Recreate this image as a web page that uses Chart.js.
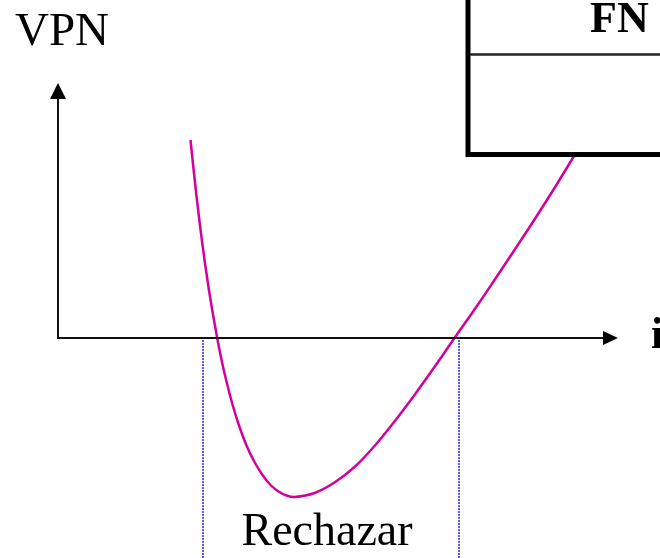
<!DOCTYPE html>
<html>
<head>
<meta charset="utf-8">
<script src="https://cdn.jsdelivr.net/npm/chart.js@4/dist/chart.umd.min.js"></script>
<style>
  html, body { margin: 0; padding: 0; background: #fff; }
  canvas { display: block; }
</style>
</head>
<body>
<canvas id="vpnChart" width="660" height="558"></canvas>
<script>
// Discount rate i (%) and net present value
const rates = [6.625, 6.925, 7.225, 7.525, 7.825, 8.125, 8.425, 8.725, 9.025, 9.425, 9.825, 10.225, 10.625, 11.025, 11.425, 11.825,
  12.825, 13.825, 14.825, 15.825, 16.825, 17.825, 18.825, 19.825, 20.825, 21.825, 22.825, 23.825, 24.825, 25.925];
const vpn = [198, 142, 93, 51, 15, -17, -43.5, -66.5, -86, -107.5, -124, -137, -147, -153.5, -157.5, -159,
  -155, -144.5, -129, -108, -83.5, -57, -29, 0, 28.5, 58, 88, 118.5, 150, 186];

// Rejection zone limits (dotted lines) and axis extents
const rejectBounds = [7.25, 20.05];
const axisEnds = { i: 28, vpn: 255 };
const labels = { y: "VPN", x: "i", zone: "Rechazar", box: "FN" };

const serif = "'Liberation Serif', 'Times New Roman', serif";

const decorations = {
  id: "decorations",
  afterDatasetsDraw(chart) {
    const ctx = chart.ctx;
    const xs = chart.scales.x, ys = chart.scales.y;
    const x0 = xs.getPixelForValue(0), y0 = ys.getPixelForValue(0);
    const yTop = ys.getPixelForValue(axisEnds.vpn);
    const xEnd = xs.getPixelForValue(axisEnds.i);
    ctx.save();

    // axes
    ctx.strokeStyle = "#111";
    ctx.fillStyle = "#000";
    ctx.lineWidth = 2;
    ctx.beginPath();
    ctx.moveTo(x0, yTop + 14);
    ctx.lineTo(x0, y0);
    ctx.lineTo(xEnd - 14, y0);
    ctx.stroke();
    // arrow heads
    ctx.beginPath();
    ctx.moveTo(x0, yTop);
    ctx.lineTo(x0 - 8, yTop + 16);
    ctx.lineTo(x0 + 8, yTop + 16);
    ctx.closePath();
    ctx.fill();
    ctx.beginPath();
    ctx.moveTo(xEnd, y0);
    ctx.lineTo(xEnd - 15, y0 - 7);
    ctx.lineTo(xEnd - 15, y0 + 7);
    ctx.closePath();
    ctx.fill();

    // dotted limits of the rejection zone
    ctx.strokeStyle = "#5c5cec";
    ctx.lineWidth = 2;
    ctx.setLineDash([2, 1]);
    rejectBounds.forEach(v => {
      const px = Math.round(xs.getPixelForValue(v));
      ctx.beginPath();
      ctx.moveTo(px, y0 + 2);
      ctx.lineTo(px, chart.height);
      ctx.stroke();
    });
    ctx.setLineDash([]);

    // texts
    ctx.fillStyle = "#000";
    ctx.textBaseline = "alphabetic";
    ctx.textAlign = "left";
    ctx.font = "47px " + serif;
    ctx.fillText(labels.y, 15, 45);
    ctx.font = "bold 44px " + serif;
    ctx.fillText(labels.x, xEnd + 33, y0 + 10);
    ctx.textAlign = "center";
    ctx.font = "46px " + serif;
    const mid = (xs.getPixelForValue(rejectBounds[0]) + xs.getPixelForValue(rejectBounds[1])) / 2;
    ctx.fillText(labels.zone, mid - 4, 545);

    // table box in the top-right corner
    ctx.fillStyle = "#fff";
    ctx.fillRect(468, -10, 220, 164);
    ctx.strokeStyle = "#000";
    ctx.lineWidth = 5;
    ctx.beginPath();
    ctx.moveTo(468, -10);
    ctx.lineTo(468, 154.5);
    ctx.lineTo(680, 154.5);
    ctx.stroke();
    ctx.lineWidth = 2.5;
    ctx.strokeStyle = "#222";
    ctx.beginPath();
    ctx.moveTo(470, 54.5);
    ctx.lineTo(680, 54.5);
    ctx.stroke();
    ctx.fillStyle = "#000";
    ctx.textAlign = "left";
    ctx.font = "bold 44px " + serif;
    ctx.fillText(labels.box, 590, 32);

    ctx.restore();
  }
};

new Chart(document.getElementById("vpnChart").getContext("2d"), {
  type: "line",
  data: {
    datasets: [{
      data: rates.map((r, k) => ({ x: r, y: vpn[k] })),
      borderColor: "#d4009c",
      borderWidth: 2.5,
      pointRadius: 0,
      tension: 0.4,
      fill: false
    }]
  },
  options: {
    responsive: false,
    animation: false,
    layout: { padding: 0 },
    plugins: { legend: { display: false }, tooltip: { enabled: false } },
    scales: {
      x: { type: "linear", min: -2.9, max: 30.1, display: false },
      y: { type: "linear", min: -220, max: 338, display: false }
    }
  },
  plugins: [decorations]
});
</script>
</body>
</html>
